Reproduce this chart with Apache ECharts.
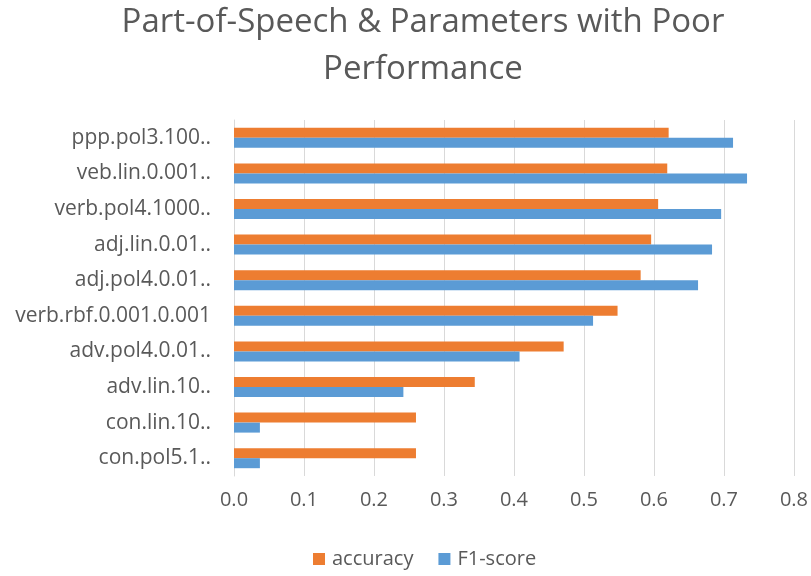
<!DOCTYPE html>
<html><head><meta charset="utf-8">
<script src="https://cdn.jsdelivr.net/npm/echarts@6/dist/echarts.min.js"></script>
<style>html,body{margin:0;padding:0;background:#fff}#c{width:811px;height:576px}</style>
</head><body><div id="c"></div>
<script>
const categories = ["ppp.pol3.100..","veb.lin.0.001..","verb.pol4.1000..","adj.lin.0.01..","adj.pol4.0.01..","verb.rbf.0.001.0.001","adv.pol4.0.01..","adv.lin.10..","con.lin.10..","con.pol5.1.."];
const accuracy = [0.621,0.619,0.606,0.596,0.581,0.548,0.471,0.344,0.260,0.260];
const f1score  = [0.713,0.733,0.696,0.683,0.663,0.513,0.408,0.242,0.037,0.037];
const xTicks = [0,0.1,0.2,0.3,0.4,0.5,0.6,0.7,0.8];

const chart = echarts.init(document.getElementById('c'));
const font = '"Open Sans", sans-serif';
chart.setOption({
  animation:false,
  title:{text:'Part-of-Speech & Parameters with Poor\nPerformance',left:418,textAlign:'center',top:-6,
    textStyle:{fontFamily:font,fontWeight:'normal',fontSize:33,color:'#595959',lineHeight:47}},
  grid:{left:234,right:14,top:120,bottom:100},
  legend:{bottom:2,left:308,itemWidth:12,itemHeight:12,itemGap:25,icon:'rect',
    textStyle:{fontFamily:font,fontSize:20,color:'#595959',padding:[0,0,0,2]},data:['accuracy','F1-score']},
  xAxis:{type:'value',min:xTicks[0],max:xTicks[xTicks.length-1],interval:0.1,
    axisLine:{show:false},axisTick:{show:false},
    splitLine:{lineStyle:{color:'#d9d9d9',width:1}},
    axisLabel:{fontFamily:font,fontSize:20,color:'#595959',margin:14,formatter:v=>v.toFixed(1)}},
  yAxis:{type:'category',data:categories,inverse:true,
    axisLine:{lineStyle:{color:'#d9d9d9'}},axisTick:{show:false},
    axisLabel:{fontFamily:font,fontSize:21,color:'#595959',margin:23}},
  series:[
    {name:'accuracy',type:'bar',data:accuracy,barWidth:10,barGap:'0%',itemStyle:{color:'#ed7d31'}},
    {name:'F1-score',type:'bar',data:f1score,barWidth:10,barGap:'0%',itemStyle:{color:'#5b9bd5'}}
  ]
});
</script></body></html>
